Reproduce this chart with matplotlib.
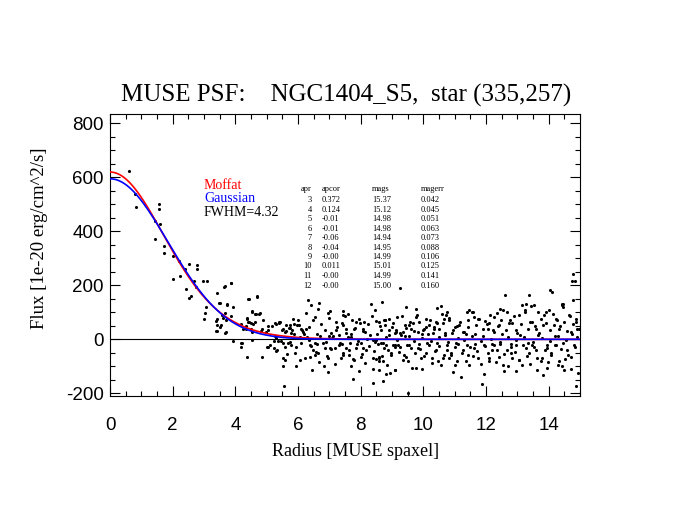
import numpy as np
import matplotlib
matplotlib.use("Agg")
import matplotlib.pyplot as plt

plt.rcParams["axes.unicode_minus"] = False

# ---- data ----
radius = [
 0.62,0.81,0.82,1.55,1.55,1.45,1.61,1.44,1.72,1.71,2.02,2.21,2.51,2.77,2.78,2.40,2.23,2.01,2.68,2.98,
 2.42,2.73,2.57,2.53,3.06,3.04,3.00,3.42,3.64,3.86,3.48,3.72,3.93,3.67,3.56,3.40,3.42,3.52,3.40,3.67,
 4.40,4.69,4.53,4.63,4.75,4.37,4.88,4.42,4.19,4.56,4.33,4.25,4.51,4.86,5.04,5.29,5.39,5.50,5.63,5.73,
 5.84,5.88,5.82,6.00,3.93,4.19,4.19,5.02,5.52,5.73,5.31,4.97,
 3.10,3.66,3.87,3.38,3.38,3.52,3.74,3.61,3.55,3.69,3.87,3.69,4.43,4.70,4.54,4.67,4.78,4.38,4.44,4.51,
 4.62,4.35,4.54,4.81,4.21,4.38,4.53,4.84,5.04,5.25,5.38,5.52,5.63,5.75,5.79,5.98,6.10,6.24,6.16,6.26,
 6.53,6.63,6.66,6.42,6.32,5.22,5.36,5.22,5.31,5.57,5.68,5.79,5.52,5.60,5.52,5.89,6.07,5.54,6.37,6.53,
 6.47,6.53,6.39,6.63,6.85,6.95,6.82,7.03,7.17,7.22,7.06,7.30,7.03,6.95,7.20,7.43,7.51,7.45,7.54,7.73,
 7.80,7.86,7.99,8.07,8.14,8.12,7.67,7.54,7.45,7.38,7.64,7.70,7.80,7.77,7.86,8.07,8.02,8.18,8.39,8.39,
 8.49,8.60,8.60,8.68,8.70,8.33,8.67,8.49,8.60,8.76,8.65,8.79,8.49,8.39,9.08,9.13,9.08,9.08,8.81,8.86,
 8.97,8.39,9.50,
 9.26,8.79,8.92,9.00,9.13,9.26,9.34,9.32,9.45,9.53,9.61,9.66,9.75,9.77,9.87,9.82,9.98,10.03,10.09,10.19,
 10.30,10.35,10.40,10.49,10.56,10.62,10.67,10.72,10.77,10.83,10.93,11.02,11.15,11.25,11.38,11.44,11.57,11.62,11.68,11.78,
 11.97,12.05,12.10,12.21,12.26,12.34,12.42,12.55,12.61,12.68,12.76,12.84,12.95,13.06,13.16,13.27,13.25,13.38,13.40,13.54,
 13.59,13.67,13.75,13.82,13.91,14.01,14.04,14.10,14.17,14.23,14.33,14.42,14.49,14.65,14.70,14.78,14.86,14.91,14.85,14.79,
 14.73,14.41,
 8.65,8.76,8.60,8.70,8.81,9.08,9.02,9.24,9.39,9.45,9.55,9.61,9.50,9.75,9.82,9.93,10.09,10.19,10.28,10.40,
 10.46,10.56,10.67,10.77,10.83,10.88,11.02,11.09,11.20,11.25,11.38,11.41,11.46,11.62,11.73,11.87,11.94,12.05,12.10,12.26,
 12.34,12.42,12.53,12.58,12.68,12.79,12.84,12.95,13.06,13.16,13.27,13.38,13.48,13.59,13.64,13.75,13.83,13.96,14.07,14.23,
 14.33,14.42,14.49,14.60,14.70,14.81,14.86,
 6.05,6.35,6.70,6.90,7.10,7.35,7.60,7.90,8.20,8.45,8.80,9.15,9.40,9.70,9.95,10.25,10.50,10.80,11.10,11.30,
 11.55,11.85,12.15,12.45,12.70,12.95,13.20,13.50,13.80,14.05,14.30,14.55,14.90,
 6.20,6.60,7.00,7.40,7.70,8.00,8.30,8.55,8.90,9.20,9.55,9.85,10.15,10.45,10.70,11.05,11.35,11.65,11.90,12.20,
 12.50,12.80,13.10,13.35,13.65,13.95,14.20,14.45,14.75,
 5.05,5.12,5.18,5.27,5.33,5.41,5.47,5.58,5.66,5.71,5.86,5.93,6.02,6.08,6.14,6.21,6.28,6.34,6.43,6.49,
 6.56,6.61,6.68,6.74,6.79,6.87,6.93,6.98,7.05,7.12,7.19,7.26,7.32,7.39,7.44,7.52,7.58,7.63,7.69,7.76,
 7.83,7.88,7.95,8.03,8.09,8.15,8.22,8.28,8.36,8.43,8.51,8.57,8.63,8.72,8.78,8.84,8.91,8.97,9.04,9.11,
 9.17,9.22,9.29,9.35,9.42,9.48,9.57,9.63,9.69,9.74,9.81,9.89,9.95,10.01,10.07,10.13,10.22,10.27,10.33,10.38,
 10.44,10.51,10.58,10.64,10.70,10.75,10.81,10.87,10.95,11.00,11.06,11.12,11.18,11.23,11.31,11.36,11.43,11.49,11.55,11.60,
 11.66,11.71,11.76,11.83,11.90,11.96,12.02,12.08,12.14,12.19,12.24,12.31,12.37,12.44,12.49,12.57,12.63,12.70,12.74,12.81,
 12.88,12.92,12.99,13.04,13.11,13.19,13.23,13.30,13.35,13.42,13.46,13.52,13.57,13.62,13.70,13.78,13.86,13.88,13.93,13.99,
 14.03,14.09,14.14,14.21,14.27,14.31,14.37,14.40,14.46,14.52,14.57,14.62,14.68,14.72,14.77,14.83,14.88,14.93,14.97,
 5.95,6.45,6.95,7.45,7.95,8.45,8.95,9.45,9.95,10.45,10.95,11.45,11.95,12.45,12.95,13.45,13.95,14.45,
]
flux = [
 623,537,492,500,482,439,428,373,347,321,310,291,280,275,259,261,234,225,218,216,
 185,194,159,153,121,96,77,172,194,209,135,126,118,99,89,74,53,47,32,22,
 151,159,104,93,93,80,70,65,55,55,50,38,40,37,49,56,59,34,53,43,
 75,55,34,71,-5,-15,-27,-27,-15,-9,6,26,
 215,198,210,67,31,136,132,80,53,71,87,28,148,157,102,93,96,77,65,61,
 65,40,28,32,-12,-64,-2,-64,-27,59,63,37,31,53,22,53,38,40,28,96,
 84,112,136,129,145,-6,-6,-33,-43,-27,-15,-21,-70,-76,-100,-52,-76,-172,-21,-15,
 -39,-58,-64,-52,-33,-70,-98,-31,-31,34,22,16,106,99,65,92,87,53,38,71,
 40,63,59,40,28,65,-15,-33,-58,-70,-58,-100,-76,-147,-33,-33,-64,-39,-70,-109,
 -74,-82,-113,-61,-156,132,139,67,65,71,34,53,-2,-2,22,34,-21,-113,-21,-39,
 -52,-162,-199,
 190,71,77,47,28,22,28,87,43,53,40,59,114,84,65,28,34,40,77,53,
 22,47,65,40,124,59,77,89,102,71,22,47,53,28,102,71,102,84,53,77,
 67,40,59,34,84,96,53,108,166,102,71,59,34,89,129,132,102,163,65,126,
 40,102,77,53,102,108,181,176,53,77,40,132,65,89,28,145,65,40,218,243,
 216,129,
 -15,-33,-70,-82,-128,-113,-21,-27,-58,-64,-21,-33,-82,-107,-33,-70,-52,-21,-70,-39,
 -82,-95,-58,-21,-70,-52,-27,-82,-141,-39,-21,-58,-95,-33,-70,-166,-21,-52,-82,-21,
 -39,-64,-95,-119,-39,-52,-70,-21,-76,-95,-33,-52,-21,-39,-70,-82,-131,-33,-58,-21,
 -82,-100,-113,-39,-64,-21,-174,
 8,-4,12,-9,5,-12,10,-6,3,-10,7,-3,11,-8,4,-5,9,-11,6,-2,
 12,-7,2,-10,8,-4,10,-9,5,-6,11,-3,7,
 18,-16,14,-19,20,-14,17,-18,15,-20,13,-17,19,-15,16,-13,18,-19,14,-16,
 20,-18,15,-14,17,-20,13,-15,19,
 35,-22,48,12,-40,66,-8,27,-55,41,18,-30,52,-12,33,-68,9,45,-25,70,
 -48,21,-85,58,-15,36,-60,80,-35,14,-92,47,-20,62,-50,25,95,-40,10,-72,
 42,-18,75,-55,30,-88,55,-26,88,-44,20,-66,48,-12,70,-95,35,-58,60,-30,
 84,-46,15,-78,52,-20,66,-105,30,-50,90,-36,18,-62,45,-15,72,-88,38,-45,
 60,-25,95,-68,22,-40,80,-58,34,-96,50,-18,66,-52,28,-80,44,-30,100,-62,
 20,-44,75,-90,40,-25,58,-70,92,-38,26,-84,50,-16,70,-55,36,-100,62,-28,
 88,-46,24,-75,55,-22,110,-60,38,-92,66,-30,48,-115,25,-68,90,-40,60,-85,
 36,-50,95,-20,70,-95,48,-35,120,-72,30,-58,85,-110,55,-30,75,-125,40,
 -100,-115,-120,105,-118,110,-125,120,-110,115,-122,108,-130,112,-118,125,-105,130,
]

# fitted profiles (model parameters)
moffat_peak = 620.0
moffat_alpha = 6.93
moffat_beta = 8.0
gauss_peak = 595.0
gauss_sigma = 1.85

apr = ["3", "4", "5", "6", "7", "8", "9", "10", "11", "12"]
apcor = ["0.372", "0.124", "-0.01", "-0.01", "-0.06", "-0.04", "-0.00", "0.011", "-0.00", "-0.00"]
mags = ["15.37", "15.12", "14.98", "14.98", "14.94", "14.95", "14.99", "15.01", "14.99", "15.00"]
magerr = ["0.042", "0.045", "0.051", "0.063", "0.073", "0.088", "0.106", "0.125", "0.141", "0.160"]

W, H = 675, 521
fig = plt.figure(figsize=(W / 100, H / 100), dpi=100)
L, R, T, B = 110, 580, 114, 396
ax = fig.add_axes([L / W, 1 - B / H, (R - L) / W, (B - T) / H])

def fx(px):
    return px / W

def fy(py):
    return 1 - py / H

serif = ["Liberation Serif", "DejaVu Serif"]
sans = ["Liberation Sans", "DejaVu Sans"]

ax.axhline(0, color="black", lw=0.8, zorder=1)
ax.scatter(radius, flux, s=5, color="black", linewidths=0, zorder=2)

r = np.linspace(0, 15, 400)
moffat = moffat_peak * (1 + (r / moffat_alpha) ** 2) ** (-moffat_beta)
gauss = gauss_peak * np.exp(-r ** 2 / (2 * gauss_sigma ** 2))
ax.plot(r, moffat, color="#ff0000", lw=1.2, zorder=3)
ax.plot(r, gauss, color="#0000ff", lw=1.2, zorder=4)

ax.set_xlim(0, 15)
ax.set_ylim(-210, 835)
ax.set_xticks(np.arange(0, 15, 2))
ax.set_xticks(np.arange(0, 15.01, 0.5), minor=True)
ax.set_yticks(np.arange(-200, 801, 200))
ax.set_yticks(np.arange(-200, 835, 50), minor=True)
ax.tick_params(which="both", direction="in", top=True, right=True, width=0.8, color="black")
ax.tick_params(which="major", length=7, labelsize=13.5)
ax.tick_params(which="minor", length=3.5)
ax.tick_params(axis="x", which="major", pad=15)
ax.tick_params(axis="y", which="major", pad=4.5)
for lab in ax.get_xticklabels() + ax.get_yticklabels():
    lab.set_family(sans)
for s in ax.spines.values():
    s.set_linewidth(0.8)

fig.text(fx(346), fy(95), "MUSE PSF:    NGC1404_S5,  star (335,257)",
         ha="center", va="center", fontsize=18, family=serif)
fig.text(fx(356), fy(451), "Radius [MUSE spaxel]", ha="center", va="center",
         fontsize=13, family=serif)
fig.text(fx(40), fy(238), "Flux [1e-20 erg/cm^2/s]", ha="center", va="center",
         rotation=90, fontsize=13.5, family=serif)

fig.text(fx(204), fy(186), "Moffat", color="#ff0000", fontsize=10, family=serif, va="center")
fig.text(fx(204), fy(199), "Gaussian", color="#0000ff", fontsize=10, family=serif, va="center")
fig.text(fx(204), fy(212), "FWHM=4.32", color="black", fontsize=10, family=serif, va="center")

ts = 6
fig.text(fx(312), fy(189), "apr", ha="right", va="center", fontsize=ts, family=serif)
fig.text(fx(322), fy(189), "apcor", ha="left", va="center", fontsize=ts, family=serif)
fig.text(fx(372), fy(189), "mags", ha="left", va="center", fontsize=ts, family=serif)
fig.text(fx(421), fy(189), "magerr", ha="left", va="center", fontsize=ts, family=serif)
for i in range(len(apr)):
    y = fy(200 + 9.5 * i)
    fig.text(fx(312), y, apr[i], ha="right", va="center", fontsize=ts, family=serif)
    fig.text(fx(322), y, apcor[i], ha="left", va="center", fontsize=ts, family=serif)
    fig.text(fx(372), y, mags[i], ha="left", va="center", fontsize=ts, family=serif)
    fig.text(fx(421), y, magerr[i], ha="left", va="center", fontsize=ts, family=serif)

fig.savefig("out.png", dpi=100)
